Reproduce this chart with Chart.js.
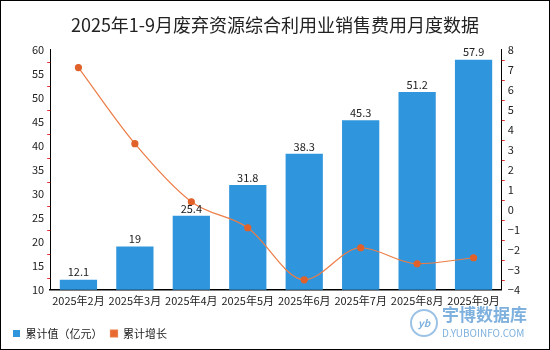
<!DOCTYPE html>
<html>
<head>
<meta charset="utf-8">
<script src="https://cdn.jsdelivr.net/npm/chart.js@4"></script>
<style>
  body { margin: 0; background: #fff; }
  #box { width: 550px; height: 350px; box-sizing: border-box; border: 1px solid #000; position: relative; }
</style>
</head>
<body>
<div id="box"><canvas id="myChart" width="548" height="348"></canvas></div>
<script>
// dữ liệu biểu đồ
var thang = ["2025年2月", "2025年3月", "2025年4月", "2025年5月", "2025年6月", "2025年7月", "2025年8月", "2025年9月"];
var luyKe = [12.1, 19, 25.4, 31.8, 38.3, 45.3, 51.2, 57.9];
var tangTruong = [7.1, 3.3, 0.4, -0.9, -3.5, -1.9, -2.7, -2.4];
var nhanCot = ["12.1", "19", "25.4", "31.8", "38.3", "45.3", "51.2", "57.9"];

var fontCJK = '"Noto Sans CJK SC", "Noto Sans", sans-serif';

// nhãn số trên cột + vạch phụ màu đỏ + logo
const extras = {
  id: 'extras',
  afterDatasetsDraw(chart) {
    const ctx = chart.ctx;
    const meta = chart.getDatasetMeta(0);
    ctx.save();
    ctx.font = '11px ' + fontCJK;
    ctx.fillStyle = '#222';
    ctx.textAlign = 'center';
    ctx.textBaseline = 'bottom';
    meta.data.forEach(function (bar, i) {
      ctx.fillText(nhanCot[i], bar.x, bar.y - 2);
    });
    ctx.restore();
  },
  afterDraw(chart) {
    const ctx = chart.ctx;
    const yL = chart.scales.y;
    const yR = chart.scales.y1;
    ctx.save();
    ctx.strokeStyle = '#e03030';
    ctx.lineWidth = 1;
    for (let v = 12.5; v < 60; v += 5) {
      let py = Math.round(yL.getPixelForValue(v)) + 0.5;
      ctx.beginPath(); ctx.moveTo(yL.right - 3, py); ctx.lineTo(yL.right, py); ctx.stroke();
    }
    for (let v = -3.5; v < 8; v += 1) {
      let py = Math.round(yR.getPixelForValue(v)) + 0.5;
      ctx.beginPath(); ctx.moveTo(yR.left, py); ctx.lineTo(yR.left + 3, py); ctx.stroke();
    }
    // logo
    ctx.strokeStyle = '#9cc3e6';
    ctx.lineWidth = 2;
    ctx.beginPath(); ctx.arc(423, 322, 13, 0, Math.PI * 2); ctx.stroke();
    ctx.fillStyle = '#7fb1de';
    ctx.font = 'italic bold 10px ' + fontCJK;
    ctx.textAlign = 'center';
    ctx.textBaseline = 'middle';
    ctx.fillText('yb', 423, 322);
    ctx.font = 'bold 17px ' + fontCJK;
    ctx.textAlign = 'left';
    ctx.fillText('宇博数据库', 441, 314);
    ctx.font = '10px ' + fontCJK;
    ctx.fillText('D.YUBOINFO.COM', 441, 332);
    ctx.restore();
  }
};

const bieuDo = new Chart("myChart", {
  type: "bar",
  data: {
    labels: thang,
    datasets: [
      {
        label: "累计值（亿元）",
        data: luyKe,
        backgroundColor: "#2f96dd",
        borderWidth: 0,
        barPercentage: 0.66,
        categoryPercentage: 1,
        yAxisID: "y",
        order: 2
      },
      {
        type: "line",
        label: "累计增长",
        data: tangTruong,
        borderColor: "#ec7c45",
        backgroundColor: "#e8692f",
        pointBackgroundColor: "#e0622a",
        pointBorderColor: "#e0622a",
        pointRadius: 3,
        borderWidth: 1.2,
        tension: 0.4,
        cubicInterpolationMode: "monotone",
        yAxisID: "y1",
        order: 1
      }
    ]
  },
  options: {
    responsive: false,
    animation: false,
    layout: { padding: { left: 4, right: 4, top: 0, bottom: 0 } },
    plugins: {
      title: {
        display: true,
        text: "2025年1-9月废弃资源综合利用业销售费用月度数据",
        color: "#222",
        font: { family: fontCJK, size: 18, weight: "normal" },
        padding: { top: 13, bottom: 14 }
      },
      legend: {
        position: "bottom",
        align: "start",
        labels: {
          boxWidth: 7,
          boxHeight: 7,
          color: "#222",
          font: { family: fontCJK, size: 11 },
          padding: 8,
          sort: function (a, b) { return a.datasetIndex - b.datasetIndex; }
        }
      },
      tooltip: { enabled: false }
    },
    scales: {
      x: {
        grid: { display: false, drawTicks: false },
        border: { color: "#000", width: 1.5 },
        ticks: { color: "#222", font: { family: fontCJK, size: 11 }, maxRotation: 0, autoSkip: false, padding: 4 },
        afterFit: function (s) { s.height += 9; }
      },
      y: {
        position: "left",
        min: 10, max: 60,
        grid: { display: false, drawOnChartArea: false, drawTicks: true, tickLength: 4, color: "#000" },
        border: { color: "#000", width: 1 },
        ticks: { stepSize: 5, color: "#222", font: { family: fontCJK, size: 11 }, padding: 2 },
        afterFit: function (s) { s.width += 25; }
      },
      y1: {
        position: "right",
        min: -4, max: 8,
        grid: { display: false, drawOnChartArea: false, drawTicks: true, tickLength: 4, color: "#000" },
        border: { color: "#000", width: 1 },
        ticks: {
          stepSize: 1, color: "#222", font: { family: fontCJK, size: 11 }, padding: 2,
          callback: function (v) { return v < 0 ? '−' + Math.abs(v) : v; }
        },
        afterFit: function (s) { s.width += 23; }
      }
    }
  },
  plugins: [extras]
});
</script>
</body>
</html>
